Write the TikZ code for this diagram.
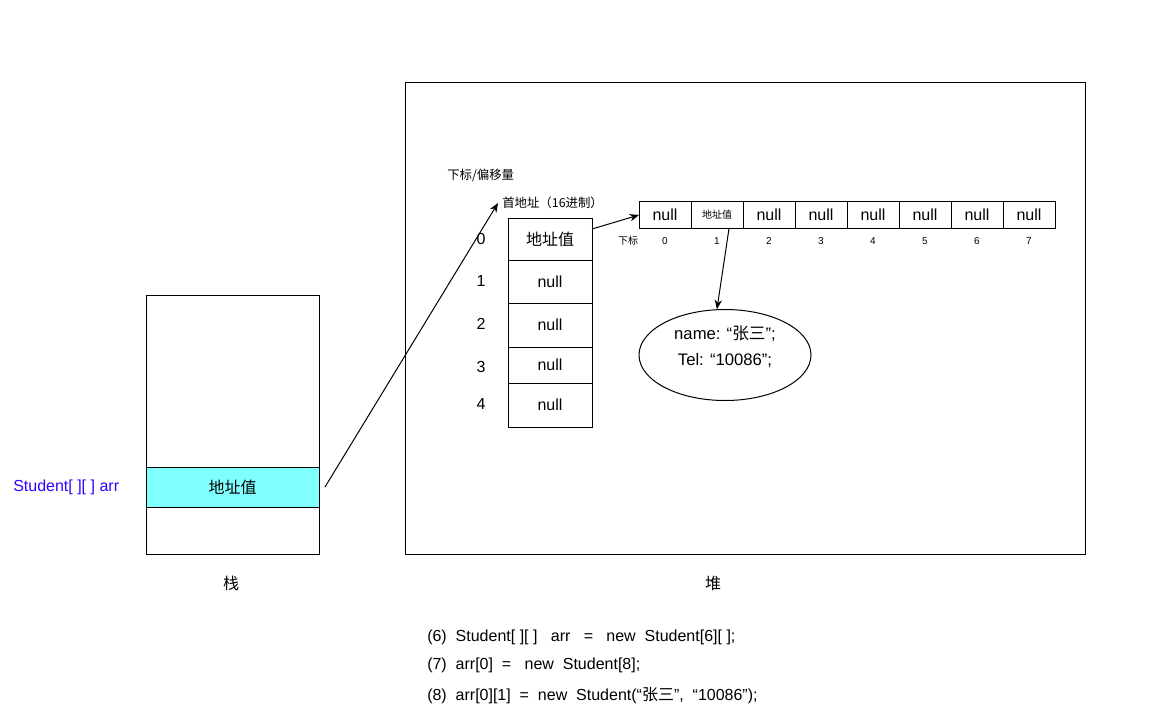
\documentclass[tikz,border=0pt]{standalone}
\usepackage{fontspec}
\setmainfont{Liberation Sans}
\newfontfamily\cjk{Noto Sans CJK SC}
\usetikzlibrary{arrows.meta,positioning,shapes.geometric}
\definecolor{refcyan}{HTML}{80FFFF}
\definecolor{refblue}{HTML}{3300FF}
\newcommand{\zh}[1]{{\cjk #1}}

\begin{document}
\begin{tikzpicture}[
  x=0.75pt, y=-0.75pt,
  font=\fontsize{12}{14}\selectfont,
  box/.style={draw, line width=0.75pt, inner sep=0pt, outer sep=0pt},
  colcell/.style={box, minimum width=63pt},
  rowcell/.style={box, minimum width=39pt, minimum height=20.25pt},
  small/.style={font=\fontsize{7.5}{9}\selectfont},
  note/.style={font=\fontsize{9.3}{11}\selectfont, inner sep=0pt},
  arr/.style={-{Stealth[length=7pt,width=5.5pt]}, line width=0.75pt}
]
\useasboundingbox (0,0) rectangle (1155,718);

% stack
\node[box, minimum width=129.75pt, minimum height=194.25pt] (stack) at (232.5,424.5) {};
\node[box, fill=refcyan, minimum width=129.75pt, minimum height=30pt] (ref) at (232.5,487) {\zh{地址值}};
\node[anchor=west, text=refblue, inner sep=0pt] (varname) at (13,487) {Student[ ][ ] arr};
\node (stacklbl) at (231,583) {\zh{栈}};

% heap
\node[box, minimum width=510pt, minimum height=354pt] (heap) at (745,318) {};
\node (heaplbl) at (713,583) {\zh{堆}};

\node[note, anchor=west] (offset) at (447,175) {\zh{下标/偏移量}};
\node[note, anchor=west] (addr) at (502,203) {\zh{首地址（16进制）}};

\node[colcell, minimum height=31.5pt] (c0) at (550,239) {\zh{地址值}};
\foreach \i/\yc/\h in {1/281.5/32.25, 2/325/33, 3/365/27, 4/405/33}
  \node[colcell, minimum height=\h pt] (c\i) at (550,\yc) {null};
\foreach \i/\yc in {0/239, 1/281, 2/324, 3/367, 4/404}
  \node (ci\i) at (481,\yc) {\i};

\node[rowcell] (r0) at (665,215) {null};
\node[rowcell, small] (r1) at (717,215) {\zh{地址值}};
\foreach \i in {2,...,7}
  \node[rowcell] (r\i) at (665+52*\i,215) {null};
\node[small] (rowidx) at (628,241) {\zh{下标}};
\foreach \i in {0,...,7}
  \node[small] (ri\i) at (665+52*\i,241) {\i};

\node[ellipse, draw, line width=0.75pt, minimum width=129pt, minimum height=68.25pt,
  inner sep=0pt, align=center, font=\fontsize{12.5}{19.5}\selectfont] (obj) at (725,355)
  {name: “\zh{张三}”;\\Tel: “10086”;\\[-6pt]};

\draw[arr] ([xshift=4.5pt]ref.east) -- ([xshift=-3pt]addr.west);
\draw[arr] ([yshift=7.5pt]c0.east) -- (r0.west);
\draw[arr] ([xshift=9pt]r1.south) -- (obj.100);

% code
\node[anchor=west, inner sep=0pt] (line6) at (427,637) {(6)~~Student[ ][ ]~~~arr~~~=~~~new~~Student[6][ ];};
\node[anchor=west, inner sep=0pt] (line7) at (427,665) {(7)~~arr[0]~~=~~~new~~Student[8];};
\node[anchor=west, inner sep=0pt] (line8) at (427,696) {(8)~~arr[0][1]~~=~~new~~Student(“\zh{张三}”,~~“10086”);};
\end{tikzpicture}
\end{document}
